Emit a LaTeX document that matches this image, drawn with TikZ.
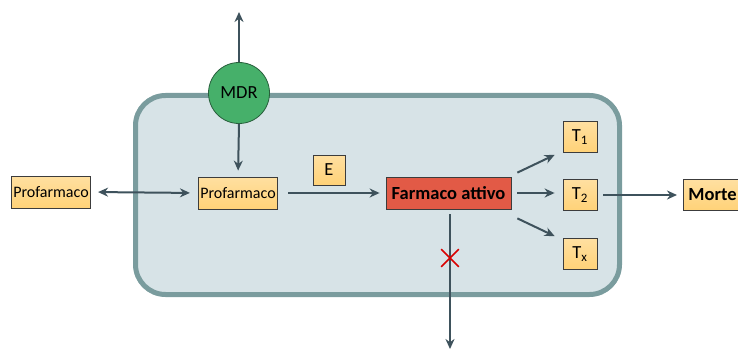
\documentclass[tikz,border=0pt]{standalone}
\usepackage{fontspec}
\setmainfont{Carlito}
\usetikzlibrary{arrows.meta}
\usetikzlibrary{positioning}
\usetikzlibrary{shapes.misc}

\definecolor{arrowgrey}{RGB}{62,82,92}
\definecolor{cellfill}{RGB}{215,227,231}
\definecolor{cellborder}{RGB}{122,156,158}
\definecolor{boxfill}{RGB}{255,210,120}
\definecolor{boxborder}{RGB}{60,60,60}
\definecolor{activefill}{RGB}{226,90,70}
\definecolor{mdrfill}{RGB}{70,176,106}
\definecolor{mdrborder}{RGB}{40,95,60}

\begin{document}
\begin{tikzpicture}[x=1pt, y=-1pt,
    arrowline/.style={line width=2pt, draw=arrowgrey, -{Stealth[length=10pt,width=9pt]}},
    drugbox/.style={draw=boxborder, line width=0.8pt, fill=boxfill, inner sep=2pt,
        top color=boxfill!70!white, bottom color=boxfill},
    smallfont/.style={font=\fontsize{16}{19}\selectfont},
    bigfont/.style={font=\fontsize{18.5}{22}\selectfont}]

    % Frame
    \useasboundingbox (0,0) rectangle (738,350);

    % Cell
    \draw [line width=5pt, draw=cellborder, fill=cellfill, rounded corners=30pt]
        (135.5,95.5) rectangle (619.5,294.5);

    % Nodes
    \node [circle, draw=mdrborder, line width=0.8pt, fill=mdrfill, minimum size=61pt,
        inner sep=0pt, bigfont] (mdr) at (239,93) {MDR};
    \node [drugbox, smallfont, minimum width=78pt, minimum height=32pt] (proout) at (51,192) {Profarmaco};
    \node [drugbox, smallfont, minimum width=79pt, minimum height=32pt] (proin) at (238,193) {Profarmaco};
    \node [drugbox, bigfont, minimum width=32pt, minimum height=30pt] (enz) at (329,170) {E};
    \node [draw=boxborder, line width=0.8pt, fill=activefill, minimum width=125pt, minimum height=32pt,
        bigfont, inner sep=2pt] (attivo) at (448.5,193) {\textbf{Farmaco attivo}};
    \node [drugbox, bigfont, minimum width=34pt, minimum height=31pt] (tone) at (580,137) {T\textsubscript{1}};
    \node [drugbox, bigfont, minimum width=34pt, minimum height=31pt] (ttwo) at (580,195) {T\textsubscript{2}};
    \node [drugbox, bigfont, minimum width=34pt, minimum height=31pt] (tx) at (580,254) {T\textsubscript{x}};
    \node [drugbox, bigfont, anchor=west, minimum height=31pt, inner sep=5pt] (morte) at (683,195) {\textbf{Morte}};

    % Free ends
    \coordinate (effluxend) at (239,12);
    \coordinate (downend) at (450,349);

    % Connectors
    \draw [arrowline] (mdr.north) -- (effluxend);
    \draw [arrowline, shorten >=6pt] (mdr.south) -- (proin.north);
    \draw [arrowline, {Stealth[length=10pt,width=9pt]}-{Stealth[length=10pt,width=9pt]},
        shorten <=7pt, shorten >=8pt] (proout.east) -- (proin.west);
    \draw [arrowline, shorten <=10pt, shorten >=6pt] (proin.east) -- (attivo.west);
    \draw [arrowline] ([shift={(6,-4)}]attivo.north east) -- ([shift={(-8,2)}]tone.south west);
    \draw [arrowline, shorten <=6pt, shorten >=8pt] (attivo.east) -- (ttwo.west |- attivo.east);
    \draw [arrowline] ([shift={(6,9)}]attivo.south east) -- ([shift={(-8,-2)}]tx.north west);
    \draw [arrowline, shorten <=6pt, shorten >=6pt] (ttwo.east) -- (morte.west);
    \draw [arrowline, shorten <=5pt] (attivo.south -| downend) -- (downend);

    % Blocked path
    \node [cross out, draw=red!85!black, line width=1.6pt, minimum size=16pt, inner sep=0pt] (block) at (450,258) {};

\end{tikzpicture}
\end{document}
